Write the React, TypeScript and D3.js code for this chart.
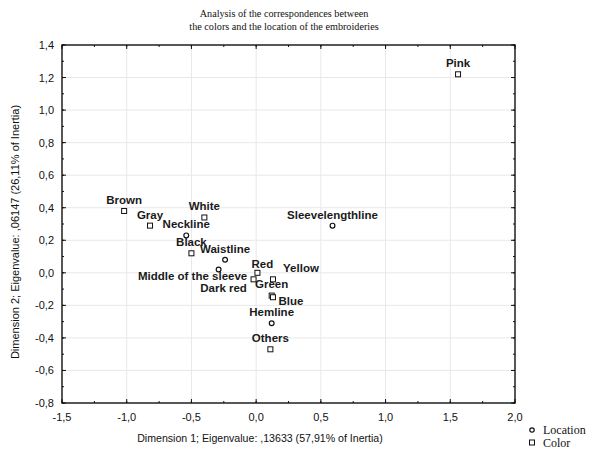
import React from "react";
import * as d3 from "d3";

const pointNames = ["Brown", "Gray", "White", "Neckline", "Black", "Waistline", "Middle of the sleeve", "Sleevelengthline", "Red", "Dark red", "Yellow", "Green", "Blue", "Hemline", "Others", "Pink"];
const pointTypes = ["Color", "Color", "Color", "Location", "Color", "Location", "Location", "Location", "Color", "Color", "Color", "Color", "Color", "Location", "Color", "Color"];
const dim1 = [-1.02, -0.82, -0.40, -0.54, -0.50, -0.24, -0.29, 0.59, 0.01, -0.02, 0.13, 0.12, 0.13, 0.12, 0.11, 1.56];
const dim2 = [0.38, 0.29, 0.34, 0.23, 0.12, 0.08, 0.02, 0.29, 0.0, -0.04, -0.04, -0.14, -0.15, -0.31, -0.47, 1.22];
// label placement offsets (px) relative to the default "centered above" position
const labelDx = [0, 0, 0, 0, 0, 0, -26, 0, 5, -30, 28, 0, 18, 0, 0, 0];
const labelDy = [0, 0, 0, 0, 0, 0, 17, 0, 2, 20, 0, -1, 15, 0, 0, 0];

const xTicks = [-1.5, -1.0, -0.5, 0.0, 0.5, 1.0, 1.5, 2.0];
const yTicks = [1.4, 1.2, 1.0, 0.8, 0.6, 0.4, 0.2, 0.0, -0.2, -0.4, -0.6, -0.8];
const titleLines = ["Analysis of the correspondences between", "the colors and the location of the embroideries"];
const xTitle = "Dimension 1; Eigenvalue: ,13633 (57,91% of Inertia)";
const yTitle = "Dimension 2; Eigenvalue: ,06147 (26,11% of Inertia)";
const legendItems = ["Location", "Color"];

const W = 611, H = 449;
const L = 62, R = 515, T = 45, B = 403;

const fmt = (v: number) => v.toFixed(1).replace(".", ",");

export default function App() {
  const x = d3.scaleLinear().domain([-1.5, 2.0]).range([L, R]);
  const y = d3.scaleLinear().domain([-0.8, 1.4]).range([B, T]);
  const xMinor = d3.range(-1.5, 2.0001, 0.25);
  const yMinor = d3.range(-0.8, 1.4001, 0.1);
  const sans = "Arial, 'Liberation Sans', sans-serif";
  const serif = "'Times New Roman', 'Liberation Serif', serif";

  return (
    <svg width={W} height={H} style={{ position: "absolute", left: 0, top: 0, background: "#fff" }}>
      {/* title */}
      {titleLines.map((t, i) => (
        <text key={t} x={284} y={17 + i * 13} textAnchor="middle" fontFamily={serif} fontSize={10.2} fill="#111">{t}</text>
      ))}
      {/* grid */}
      {xTicks.slice(1, -1).map((v) => (
        <line key={"gx" + v} x1={x(v)} x2={x(v)} y1={T} y2={B} stroke="#e8e8e8" strokeWidth={1} />
      ))}
      {yTicks.slice(1, -1).map((v) => (
        <line key={"gy" + v} x1={L} x2={R} y1={y(v)} y2={y(v)} stroke="#e8e8e8" strokeWidth={1} />
      ))}
      {/* frame */}
      <rect x={L} y={T} width={R - L} height={B - T} fill="none" stroke="#111" strokeWidth={1.4} />
      {/* minor ticks */}
      {xMinor.map((v, i) => (
        <g key={"xm" + i}>
          <line x1={x(v)} x2={x(v)} y1={B} y2={B - 2} stroke="#111" />
          <line x1={x(v)} x2={x(v)} y1={T} y2={T + 2} stroke="#111" />
        </g>
      ))}
      {yMinor.map((v, i) => (
        <g key={"ym" + i}>
          <line x1={L} x2={L + 2} y1={y(v)} y2={y(v)} stroke="#111" />
          <line x1={R} x2={R - 2} y1={y(v)} y2={y(v)} stroke="#111" />
        </g>
      ))}
      {/* major ticks + labels */}
      {xTicks.map((v) => (
        <g key={"xt" + v}>
          <line x1={x(v)} x2={x(v)} y1={B} y2={B - 4} stroke="#111" />
          <line x1={x(v)} x2={x(v)} y1={T} y2={T + 4} stroke="#111" />
          <text x={x(v)} y={B + 18} textAnchor="middle" fontFamily={sans} fontSize={11} fill="#111">{fmt(v)}</text>
        </g>
      ))}
      {yTicks.map((v) => (
        <g key={"yt" + v}>
          <line x1={L} x2={L + 4} y1={y(v)} y2={y(v)} stroke="#111" />
          <line x1={R} x2={R - 4} y1={y(v)} y2={y(v)} stroke="#111" />
          <text x={L - 8} y={y(v) + 4} textAnchor="end" fontFamily={sans} fontSize={11} fill="#111">{fmt(v)}</text>
        </g>
      ))}
      {/* axis titles */}
      <text x={260} y={442} textAnchor="middle" fontFamily={sans} fontSize={10.6} fill="#111">{xTitle}</text>
      <text transform={`translate(19,232) rotate(-90)`} textAnchor="middle" fontFamily={sans} fontSize={11} fill="#111">{yTitle}</text>
      {/* points */}
      {pointNames.map((n, i) => {
        const px = x(dim1[i]);
        const py = y(dim2[i]);
        return (
          <g key={n}>
            {pointTypes[i] === "Location" ? (
              <circle cx={px} cy={py} r={2.4} fill="#fff" stroke="#111" strokeWidth={1.2} />
            ) : (
              <rect x={px - 2.5} y={py - 2.5} width={5} height={5} fill="#fff" stroke="#111" strokeWidth={1} />
            )}
            <text x={px + labelDx[i]} y={py - 7 + labelDy[i]} textAnchor="middle" fontFamily={sans} fontSize={11.5} fontWeight="bold" fill="#1a1a1a">{n}</text>
          </g>
        );
      })}
      {/* legend */}
      {legendItems.map((item, i) => (
        <g key={item}>
          {i === 0 ? (
            <circle cx={532} cy={430} r={2.2} fill="#fff" stroke="#111" strokeWidth={1.2} />
          ) : (
            <rect x={529.5} y={440} width={5} height={5} fill="#fff" stroke="#111" strokeWidth={1} />
          )}
          <text x={543} y={434 + i * 12.5} fontFamily={serif} fontSize={12} fill="#111">{item}</text>
        </g>
      ))}
    </svg>
  );
}
